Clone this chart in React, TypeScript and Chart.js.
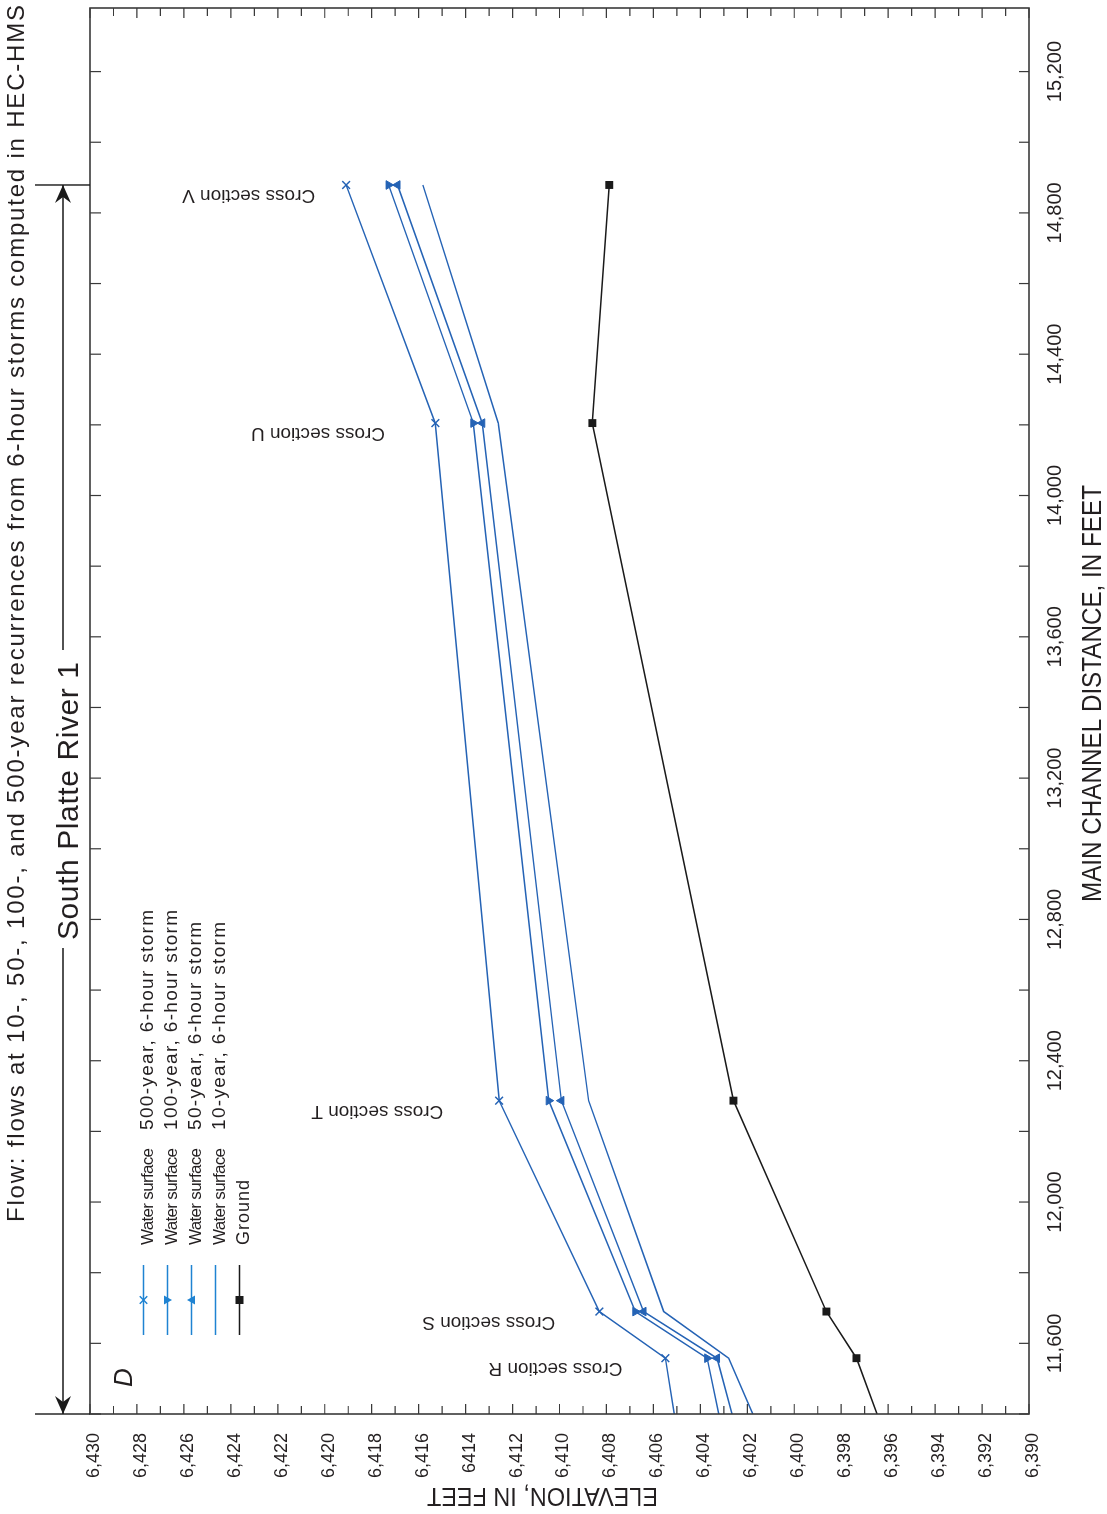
import React, { useEffect, useRef } from 'react';
import { Chart, registerables } from 'chart.js';

Chart.register(...registerables);

// ---------- data ----------
const sectionNames = ['R', 'S', 'T', 'U', 'V'];
// first entry is the start of the plotted reach (left axis edge)
const distances = [11400, 11558, 11690, 12287, 14205, 14879];
const ws500 = [6405.11, 6405.49, 6408.3, 6412.57, 6415.29, 6419.09];
const ws100 = [6403.22, 6403.71, 6406.77, 6410.46, 6413.67, 6417.28];
const ws50 = [6402.65, 6403.29, 6406.42, 6409.92, 6413.29, 6416.9];
const ws10 = [6401.77, 6402.79, 6405.56, 6408.76, 6412.61, 6415.82];
const ground = [6396.47, 6397.35, 6398.63, 6402.59, 6408.6, 6407.88];

const elevationTickLabels = [
  '6,390', '6,392', '6,394', '6,396', '6,398', '6,400', '6,402', '6,404', '6,406', '6,408',
  '6,410', '6,412', '6414', '6,416', '6,418', '6,420', '6,422', '6,424', '6,426', '6,428', '6,430',
];
const distanceTickLabels = [
  '11,600', '12,000', '12,400', '12,800', '13,200', '13,600', '14,000', '14,400', '14,800', '15,200',
];
const legendLabels = [
  ['Water surface', '500-year, 6-hour storm'],
  ['Water surface', '100-year, 6-hour storm'],
  ['Water surface', '50-year, 6-hour storm'],
  ['Water surface', '10-year, 6-hour storm'],
  ['Ground', ''],
];
const titleText =
  'Flow: flows at 10-, 50-, 100-, and 500-year recurrences from 6-hour storms computed in HEC-HMS';
const reachLabel = 'South Platte River 1';
const panelLetter = 'D';
const xTitle = 'MAIN CHANNEL DISTANCE, IN FEET';
const yTitle = 'ELEVATION, IN FEET';

// ---------- layout / style constants ----------
const X_MIN = 11400;
const X_MAX = 15380;
const Y_MIN = 6390;
const Y_MAX = 6430;
// elevation at which each "Cross section" label starts (R..V)
const sectionLabelElev = [6407.32, 6410.18, 6414.95, 6417.43, 6420.41];

const FONT = '"Liberation Sans", Arial, Helvetica, sans-serif';
const BLUE = '#2563b5';
const LEGEND_BLUE = '#1f83d2';
const BLACK = '#1a1a1a';
const AXIS = '#3a3a3a';
const TEXT = '#231f20';

const distanceTickValues: number[] = [];
for (let d = X_MIN; d <= 15200; d += 200) distanceTickValues.push(d);
const elevLabelMap: Record<number, string> = {};
elevationTickLabels.forEach((l) => (elevLabelMap[Number(l.replace(',', ''))] = l));
const distLabelMap: Record<number, string> = {};
distanceTickLabels.forEach((l) => (distLabelMap[Number(l.replace(',', ''))] = l));
const elevLabelValues = Object.keys(elevLabelMap).map(Number).sort((a, b) => a - b);

const pts = (arr: number[]) => distances.map((d, i) => ({ x: d, y: arr[i] }));

function fitText(ctx: any, text: string, x: number, y: number, target: number, mode: 'space' | 'scale') {
  if ('letterSpacing' in ctx) ctx.letterSpacing = '0px';
  const w = ctx.measureText(text).width;
  if (mode === 'space' && 'letterSpacing' in ctx && text.length > 1) {
    const ls = (target - w) / (text.length - 1);
    ctx.letterSpacing = `${ls}px`;
    ctx.fillText(text, x, y);
    ctx.letterSpacing = '0px';
  } else {
    ctx.save();
    ctx.translate(x, y);
    ctx.scale(target / w, 1);
    ctx.fillText(text, 0, 0);
    ctx.restore();
  }
}

function drawMarker(ctx: any, kind: string, x: number, y: number, color: string) {
  ctx.save();
  ctx.fillStyle = color;
  ctx.strokeStyle = color;
  ctx.lineWidth = 1.5;
  ctx.beginPath();
  if (kind === 'x') {
    const r = 3.8;
    ctx.moveTo(x - r, y - r);
    ctx.lineTo(x + r, y + r);
    ctx.moveTo(x - r, y + r);
    ctx.lineTo(x + r, y - r);
    ctx.stroke();
  } else if (kind === 'triDown') {
    ctx.moveTo(x - 4.5, y - 3.5);
    ctx.lineTo(x + 4.5, y - 3.5);
    ctx.lineTo(x, y + 4.5);
    ctx.closePath();
    ctx.fill();
  } else if (kind === 'triUp') {
    ctx.moveTo(x - 4.5, y + 3.5);
    ctx.lineTo(x + 4.5, y + 3.5);
    ctx.lineTo(x, y - 4.5);
    ctx.closePath();
    ctx.fill();
  } else if (kind === 'square') {
    ctx.fillRect(x - 4, y - 4, 8, 8);
  }
  ctx.restore();
}

const annotPlugin = {
  id: 'annot',
  afterDraw(chart: any) {
    const ctx = chart.ctx;
    const ca = chart.chartArea;
    const xs = chart.scales.x;
    const ys = chart.scales.y;
    ctx.save();

    // inward tick marks on all four sides
    ctx.strokeStyle = AXIS;
    ctx.lineWidth = 1.2;
    ctx.beginPath();
    for (let v = Y_MIN; v <= Y_MAX; v += 1) {
      const py = ys.getPixelForValue(v);
      const len = v % 2 === 0 ? 10 : 8;
      ctx.moveTo(ca.left, py);
      ctx.lineTo(ca.left + len, py);
      ctx.moveTo(ca.right, py);
      ctx.lineTo(ca.right - len, py);
    }
    for (const d of distanceTickValues) {
      const px = xs.getPixelForValue(d);
      ctx.moveTo(px, ca.bottom);
      ctx.lineTo(px, ca.bottom - 10);
      ctx.moveTo(px, ca.top);
      ctx.lineTo(px, ca.top + 11);
    }
    ctx.stroke();

    // frame
    ctx.lineWidth = 1.6;
    ctx.strokeRect(ca.left, ca.top, ca.right - ca.left, ca.bottom - ca.top);

    ctx.fillStyle = TEXT;
    ctx.textAlign = 'left';
    ctx.textBaseline = 'alphabetic';

    // top title
    ctx.font = `24px ${FONT}`;
    fitText(ctx, titleText, 292, 24, 1217, 'space');

    // reach arrow
    const ay = 63;
    const x0 = ca.left;
    const x1 = xs.getPixelForValue(distances[distances.length - 1]);
    ctx.strokeStyle = BLACK;
    ctx.fillStyle = BLACK;
    ctx.lineWidth = 1.4;
    ctx.beginPath();
    ctx.moveTo(x0, 35);
    ctx.lineTo(x0, ca.top);
    ctx.moveTo(x1, 35);
    ctx.lineTo(x1, ca.top);
    ctx.moveTo(x0, ay);
    ctx.lineTo(566, ay);
    ctx.moveTo(864, ay);
    ctx.lineTo(x1, ay);
    ctx.stroke();
    const head = (tip: number, dir: number) => {
      ctx.beginPath();
      ctx.moveTo(tip, ay);
      ctx.lineTo(tip - dir * 18, ay - 8);
      ctx.lineTo(tip - dir * 12, ay);
      ctx.lineTo(tip - dir * 18, ay + 8);
      ctx.closePath();
      ctx.fill();
    };
    head(x1, 1);
    head(x0, -1);
    ctx.fillStyle = TEXT;
    ctx.font = `30px ${FONT}`;
    fitText(ctx, reachLabel, 574, 78, 278, 'space');

    // panel letter
    ctx.font = `italic 26px ${FONT}`;
    ctx.fillText(panelLetter, 127, 132);

    // legend
    const rowY = (i: number) => 143.5 + i * 24;
    const kinds = ['x', 'triDown', 'triUp', '', 'square'];
    legendLabels.forEach((lab, i) => {
      const y = rowY(i);
      const col = i === 4 ? BLACK : LEGEND_BLUE;
      ctx.strokeStyle = col;
      ctx.lineWidth = 1.6;
      ctx.beginPath();
      ctx.moveTo(179, y);
      ctx.lineTo(249, y);
      ctx.stroke();
      if (kinds[i]) drawMarker(ctx, kinds[i], 214, y, col);
      ctx.fillStyle = TEXT;
      if (i < 4) {
        ctx.font = `17px ${FONT}`;
        fitText(ctx, lab[0], 269, y + 9.5, 97, 'space');
        ctx.font = `19px ${FONT}`;
        fitText(ctx, lab[1], 384, y + 9.5, i === 0 || i === 1 ? 220 : 208, 'space');
      } else {
        ctx.font = `18px ${FONT}`;
        fitText(ctx, lab[0], 269, y + 9.5, 65, 'space');
      }
    });

    // cross-section labels
    ctx.fillStyle = TEXT;
    ctx.font = `19px ${FONT}`;
    sectionNames.forEach((name, i) => {
      const px = xs.getPixelForValue(distances[i + 1]) - 5;
      const py = ys.getPixelForValue(sectionLabelElev[i]);
      ctx.save();
      ctx.translate(px, py);
      ctx.rotate(-Math.PI / 2);
      ctx.fillText('Cross section ' + name, 0, 0);
      ctx.restore();
    });

    // axis titles
    ctx.font = `27px ${FONT}`;
    fitText(ctx, xTitle, 612, 1101, 417, 'scale');
    ctx.save();
    ctx.translate(26, 658);
    ctx.rotate(-Math.PI / 2);
    ctx.font = `25px ${FONT}`;
    fitText(ctx, yTitle, 0, 0, 231, 'scale');
    ctx.restore();

    ctx.restore();
  },
};

export default function App() {
  const ref = useRef<HTMLCanvasElement>(null);
  useEffect(() => {
    const canvas = ref.current;
    if (!canvas) return;
    const line = (data: number[], color: string, extra: any) => ({
      data: pts(data),
      borderColor: color,
      backgroundColor: color,
      borderWidth: 1.5,
      tension: 0,
      fill: false,
      pointBorderColor: color,
      pointBackgroundColor: color,
      pointHoverRadius: 0,
      ...extra,
    });
    const markerRadius = (r: number) => distances.map((_, i) => (i === 0 ? 0 : r));
    const chart = new Chart(canvas, {
      type: 'line',
      data: {
        datasets: [
          line(ws500, BLUE, { label: '500', pointStyle: 'crossRot', pointRadius: markerRadius(5.5), pointBorderWidth: 1.5 }),
          line(ws100, BLUE, { label: '100', pointStyle: 'triangle', pointRotation: 180, pointRadius: markerRadius(5), pointBorderWidth: 1 }),
          line(ws50, BLUE, { label: '50', pointStyle: 'triangle', pointRotation: 0, pointRadius: markerRadius(5), pointBorderWidth: 1 }),
          line(ws10, BLUE, { label: '10', pointRadius: 0 }),
          line(ground, BLACK, { label: 'Ground', pointStyle: 'rect', pointRadius: markerRadius(5.6), pointBorderWidth: 0 }),
        ],
      },
      options: {
        responsive: false,
        animation: false,
        devicePixelRatio: 1,
        events: [],
        layout: { padding: { left: 0, right: 8, top: 90, bottom: 0 }, autoPadding: false },
        plugins: { legend: { display: false }, tooltip: { enabled: false }, title: { display: false } },
        scales: {
          x: {
            type: 'linear',
            position: 'bottom',
            min: X_MIN,
            max: X_MAX,
            grid: { display: false },
            border: { display: false },
            afterBuildTicks: (s: any) => {
              s.ticks = distanceTickValues.map((v) => ({ value: v }));
            },
            afterFit: (s: any) => {
              s.height = 78;
            },
            ticks: {
              autoSkip: false,
              maxRotation: 0,
              minRotation: 0,
              padding: 6,
              color: TEXT,
              font: { family: FONT, size: 20 },
              callback: (v: any) => distLabelMap[Number(v)] ?? '',
            },
          },
          y: {
            type: 'linear',
            min: Y_MIN,
            max: Y_MAX,
            grid: { display: false },
            border: { display: false },
            afterBuildTicks: (s: any) => {
              s.ticks = elevLabelValues.map((v) => ({ value: v }));
            },
            afterFit: (s: any) => {
              s.width = 100;
            },
            ticks: {
              autoSkip: false,
              padding: 11,
              labelOffset: 4,
              color: TEXT,
              font: { family: FONT, size: 18 },
              callback: (v: any) => elevLabelMap[Number(v)] ?? '',
            },
          },
        },
      } as any,
      plugins: [annotPlugin],
    });
    return () => chart.destroy();
  }, []);

  return (
    <div
      style={{
        position: 'absolute',
        left: 0,
        top: 0,
        width: 1107,
        height: 1514,
        overflow: 'hidden',
        background: '#ffffff',
      }}
    >
      <canvas
        ref={ref}
        width={1514}
        height={1107}
        style={{
          position: 'absolute',
          left: 0,
          top: 0,
          width: '1514px',
          height: '1107px',
          transformOrigin: '0 0',
          transform: 'translateY(1514px) rotate(-90deg)',
        }}
      />
    </div>
  );
}
